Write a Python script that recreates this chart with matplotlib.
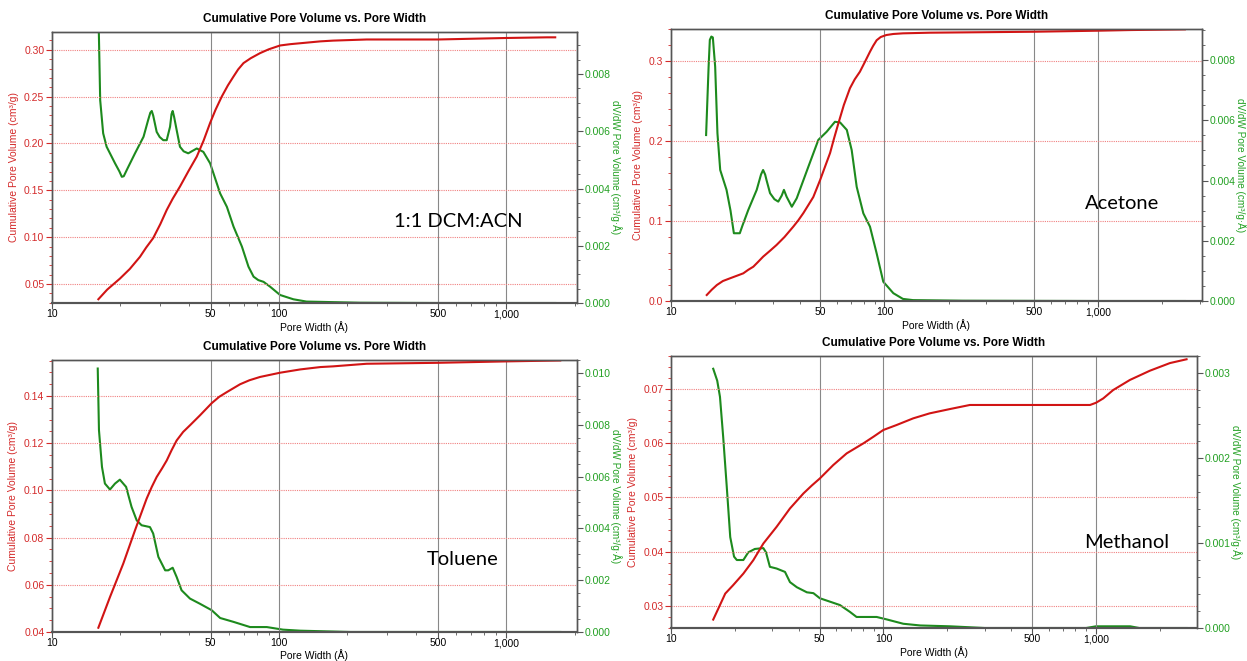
import numpy as np
import matplotlib.pyplot as plt
from matplotlib.ticker import FixedLocator, MultipleLocator, FormatStrFormatter, NullFormatter

plt.rcParams['font.family'] = ['Liberation Sans', 'DejaVu Sans']

# 1:1 DCM:ACN
dcm_w_cum = [16.0, 17.5, 19.9, 22.0, 24.4, 26.0, 27.9, 30.0, 32.0, 34.0, 36.6, 40.0, 43.4, 46.5, 49.7, 52.5, 55.9, 59.5, 63.0, 66.0,
             69.7, 75.0, 82.4, 90.0, 101, 112, 124, 152, 173, 243, 500, 1000, 1513, 1644]
dcm_cum = [0.0337, 0.044, 0.0557, 0.066, 0.079, 0.089, 0.099, 0.114, 0.129, 0.141, 0.154, 0.171, 0.186, 0.203, 0.222, 0.236, 0.250,
           0.262, 0.2715, 0.279, 0.2858, 0.291, 0.2964, 0.3005, 0.3046, 0.306, 0.307, 0.309, 0.3098, 0.311, 0.311, 0.3126, 0.3133, 0.3133]
dcm_w_dv = [15.8, 16.3, 16.8, 17.4, 18.95, 19.8, 20.3, 20.7, 21.5, 23.2, 25.3, 26.5, 27.1, 27.5, 27.9, 28.9, 29.8, 30.9, 32.0, 33.1,
            33.6, 34.0, 34.5, 35.4, 36.6, 38.0, 39.8, 43.4, 46.4, 49.7, 55.0, 58.9, 63.0, 68.6, 73.3, 77.2, 81.0, 85.4, 91.3, 101,
            115.6, 132, 152, 173, 227, 500, 1000, 1644]
dcm_dv = [0.0125, 0.00709, 0.00593, 0.00546, 0.00488, 0.0046, 0.00441, 0.00443, 0.0047, 0.00523, 0.00581, 0.00639, 0.00665, 0.00671,
          0.00655, 0.00598, 0.0058, 0.00569, 0.00569, 0.00616, 0.0066, 0.00671, 0.0065, 0.00604, 0.00546, 0.0053, 0.00523, 0.0054,
          0.00528, 0.00488, 0.00383, 0.00336, 0.00267, 0.00197, 0.00127, 0.00092, 0.0008, 0.00074, 0.00057, 0.00028, 0.00013, 0.00005,
          0.00004, 0.00003, 0.00001, 0.0, 0.0, 0.0]

# Acetone
ace_w_cum = [14.7, 15.5, 16.4, 17.5, 18.9, 20.3, 21.8, 23.0, 24.3, 25.6, 27.0, 29.0, 31.2, 34.0, 37.4, 39.5, 41.7, 44.0, 46.4, 49.9,
             52.5, 55.6, 58.0, 60.8, 64.5, 68.9, 72.5, 76.7, 81.0, 85.5, 88.5, 91.9, 96.0, 102, 110, 122, 163, 500, 1000, 1413, 2552]
ace_cum = [0.0075, 0.014, 0.020, 0.025, 0.0284, 0.0315, 0.0346, 0.039, 0.0429, 0.049, 0.0554, 0.0625, 0.070, 0.080, 0.093, 0.101,
           0.110, 0.120, 0.130, 0.151, 0.167, 0.185, 0.203, 0.222, 0.245, 0.266, 0.277, 0.2866, 0.299, 0.3116, 0.319, 0.326, 0.330,
           0.3325, 0.3338, 0.3346, 0.3354, 0.3366, 0.3379, 0.3387, 0.3396]
ace_w_dv = [14.6, 15.0, 15.2, 15.45, 15.7, 16.1, 16.5, 17.0, 18.2, 19.0, 19.7, 21.0, 21.6, 23.0, 25.2, 26.4, 27.0, 27.6, 28.0, 29.1,
            30.5, 31.8, 33.0, 33.8, 34.8, 36.8, 38.8, 44.0, 49.0, 53.6, 58.6, 61.9, 66.6, 70.2, 74.1, 79.6, 85.5, 91.9, 98.7, 110, 122,
            136, 233, 1000, 2552]
ace_dv = [0.00551, 0.00778, 0.00867, 0.00878, 0.00875, 0.00778, 0.00557, 0.00435, 0.00369, 0.003, 0.00225, 0.00225, 0.0025, 0.00302,
          0.00369, 0.0042, 0.00435, 0.0042, 0.00402, 0.00358, 0.00338, 0.0033, 0.0035, 0.00369, 0.00346, 0.00313, 0.00341, 0.00446,
          0.00535, 0.00562, 0.00595, 0.00593, 0.00568, 0.00501, 0.00379, 0.00291, 0.00247, 0.00158, 0.00064, 0.00026, 0.00007, 0.00003,
          0.00001, 0.0, 0.0]

# Toluene
tol_w_cum = [16.0, 18.0, 20.6, 23.2, 26.1, 27.5, 28.9, 30.5, 32.0, 33.6, 35.4, 37.8, 40.5, 44.8, 50.5, 54.5, 58.9, 67.3, 74.0, 82.4,
             101, 124, 152, 173, 243, 500, 1000, 1730]
tol_cum = [0.0418, 0.0548, 0.069, 0.0831, 0.0965, 0.1015, 0.1057, 0.1093, 0.1127, 0.117, 0.1212, 0.1248, 0.1276, 0.1318, 0.137,
           0.1397, 0.1417, 0.145, 0.1467, 0.1481, 0.1499, 0.1513, 0.1523, 0.1526, 0.1537, 0.1541, 0.1547, 0.1551]
tol_w_dv = [15.9, 16.1, 16.6, 17.1, 18.0, 18.95, 19.9, 21.2, 22.4, 23.6, 24.8, 27.0, 27.9, 29.4, 31.5, 32.5, 34.0, 35.4, 37.2, 40.5,
            44.8, 50.5, 55.0, 63.0, 74.5, 88.3, 104, 124, 152, 206, 1000, 1730]
tol_dv = [0.01017, 0.00779, 0.00637, 0.00573, 0.0055, 0.00573, 0.00588, 0.0056, 0.00483, 0.00431, 0.00412, 0.00405, 0.0038, 0.0029,
          0.00238, 0.00238, 0.00248, 0.00212, 0.00161, 0.00129, 0.00109, 0.00084, 0.00054, 0.00039, 0.00019, 0.00019, 0.00009,
          0.00005, 0.00003, 0.0, 0.0, 0.0]

# Methanol
met_w_cum = [15.8, 16.7, 18.0, 19.6, 21.9, 24.4, 27.2, 31.4, 36.3, 42.0, 46.0, 50.2, 58.0, 67.1, 80.4, 90.0, 99.8, 115, 138, 165, 206,
             255, 938, 1000, 1082, 1206, 1445, 1795, 2229, 2670]
met_cum = [0.02755, 0.02957, 0.03233, 0.03387, 0.036, 0.03847, 0.04153, 0.0446, 0.04798, 0.05074, 0.0522, 0.0535, 0.05595, 0.0581,
           0.05994, 0.0612, 0.0624, 0.0633, 0.06454, 0.06546, 0.06626, 0.067, 0.067, 0.0674, 0.0682, 0.06975, 0.0716, 0.0733, 0.0747,
           0.0754]
met_w_dv = [15.8, 16.5, 17.0, 17.6, 18.3, 19.0, 19.8, 20.4, 21.9, 23.1, 24.8, 27.2, 28.0, 29.2, 31.4, 34.4, 36.3, 39.1, 43.6, 46.8,
            50.2, 56.0, 62.4, 69.5, 74.7, 83.4, 92.9, 104, 124, 149, 206, 300, 900, 1000, 1450, 1600, 2670]
met_dv = [0.00305, 0.00291, 0.00272, 0.00225, 0.00166, 0.00107, 0.00084, 0.0008, 0.0008, 0.00089, 0.00093, 0.00094, 0.00089, 0.00072,
          0.0007, 0.00066, 0.00054, 0.00048, 0.00042, 0.00041, 0.00035, 0.00031, 0.00027, 0.00019, 0.00013, 0.00013, 0.00013, 0.0001,
          0.00005, 0.00003, 0.00002, 0.0, 0.0, 0.00002, 0.00002, 0.0, 0.0]

major_x = [10, 50, 100, 500, 1000]
major_x_labels = ['10', '50', '100', '500', '1,000']
minor_x = [20, 30, 40, 60, 70, 80, 90, 200, 300, 400, 600, 700, 800, 900, 2000, 3000, 4000]

RED = '#d11414'
GREEN = '#1d8a1d'
RED_TXT = '#d42a2a'
GREEN_TXT = '#22a022'
SPINE = '#555555'


def panel(rect, w_cum, cum, w_dv, dv, xmax, ylim, ystep, yminor, yfmt, dlim, dstep, dminor, dfmt, name, name_xy):
    ax = fig.add_axes(rect)
    ax2 = ax.twinx()
    ax.set_zorder(ax2.get_zorder() + 1)
    ax.patch.set_visible(False)

    ax2.plot(w_dv, dv, color=GREEN, lw=1.5, solid_joinstyle='round')
    ax.plot(w_cum, cum, color=RED, lw=1.5, solid_joinstyle='round')

    for a in (ax, ax2):
        a.set_xscale('log')
        a.set_xlim(10, xmax)
        for s in a.spines.values():
            s.set_color(SPINE)
            s.set_linewidth(1.0)
        a.spines['bottom'].set_linewidth(1.5)

    ax.xaxis.set_major_locator(FixedLocator(major_x))
    ax.set_xticklabels(major_x_labels)
    ax.xaxis.set_minor_locator(FixedLocator(minor_x))
    ax.xaxis.set_minor_formatter(NullFormatter())
    ax.tick_params(axis='x', which='major', length=4, color=SPINE, labelsize=7.5, pad=0.5)
    ax.tick_params(axis='x', which='minor', length=2.5, color=SPINE)
    for x in major_x[1:]:
        ax.axvline(x, color='#888888', lw=0.8, zorder=0)

    ax.set_ylim(*ylim)
    ax.yaxis.set_major_locator(MultipleLocator(ystep))
    ax.yaxis.set_minor_locator(MultipleLocator(yminor))
    ax.yaxis.set_major_formatter(FormatStrFormatter(yfmt))
    ax.tick_params(axis='y', which='major', length=4, color=RED_TXT, labelcolor=RED_TXT, labelsize=7.5, pad=1.5)
    ax.tick_params(axis='y', which='minor', length=2.5, color=RED_TXT)
    ax.yaxis.grid(True, which='major', color='#f08080', lw=0.8, ls=(0, (1, 1)))

    ax2.set_ylim(*dlim)
    ax2.yaxis.set_major_locator(MultipleLocator(dstep))
    ax2.yaxis.set_minor_locator(MultipleLocator(dminor))
    ax2.yaxis.set_major_formatter(FormatStrFormatter(dfmt))
    ax2.tick_params(axis='y', which='major', length=4, color=SPINE, labelcolor=GREEN_TXT, labelsize=7.5, pad=1.5)
    ax2.tick_params(axis='y', which='minor', length=2.5, color=SPINE)

    ax.set_title('Cumulative Pore Volume vs. Pore Width', fontsize=8.5, fontweight='bold', pad=7)
    ax.set_xlabel('Pore Width (Å)', fontsize=7.5, labelpad=1)
    ax.set_ylabel('Cumulative Pore Volume (cm³/g)', fontsize=7.5, color=RED_TXT, labelpad=4)
    ax2.set_ylabel('dV/dW Pore Volume (cm³/g·Å)', fontsize=7.2, color=GREEN_TXT, rotation=270, labelpad=8)

    ax.text(name_xy[0], name_xy[1], name, transform=ax.transAxes, fontsize=14.5, family='Lato',
            ha='center', va='center', color='black')


fig = plt.figure(figsize=(12.47, 6.61), dpi=100)

panel([0.0417, 0.5416, 0.421, 0.410], dcm_w_cum, dcm_cum, dcm_w_dv, dcm_dv, 2050,
      (0.0297, 0.319), 0.05, 0.01, '%.2f', (0, 0.00947), 0.002, 0.0005, '%.3f', '1:1 DCM:ACN', (0.773, 0.30))
panel([0.5381, 0.5446, 0.4258, 0.4115], ace_w_cum, ace_cum, ace_w_dv, ace_dv, 3070,
      (0, 0.34), 0.1, 0.02, '%.1f', (0, 0.00903), 0.002, 0.0005, '%.3f', 'Acetone', (0.85, 0.36))
panel([0.0417, 0.0439, 0.421, 0.4115], tol_w_cum, tol_cum, tol_w_dv, tol_dv, 2050,
      (0.04, 0.1553), 0.02, 0.005, '%.2f', (0, 0.0105), 0.002, 0.0005, '%.3f', 'Toluene', (0.783, 0.265))
panel([0.5381, 0.0499, 0.4218, 0.4115], met_w_cum, met_cum, met_w_dv, met_dv, 2990,
      (0.026, 0.076), 0.01, 0.002, '%.2f', (0, 0.0032), 0.001, 0.0002, '%.3f', 'Methanol', (0.867, 0.316))

fig.savefig('out.png', dpi=100)
